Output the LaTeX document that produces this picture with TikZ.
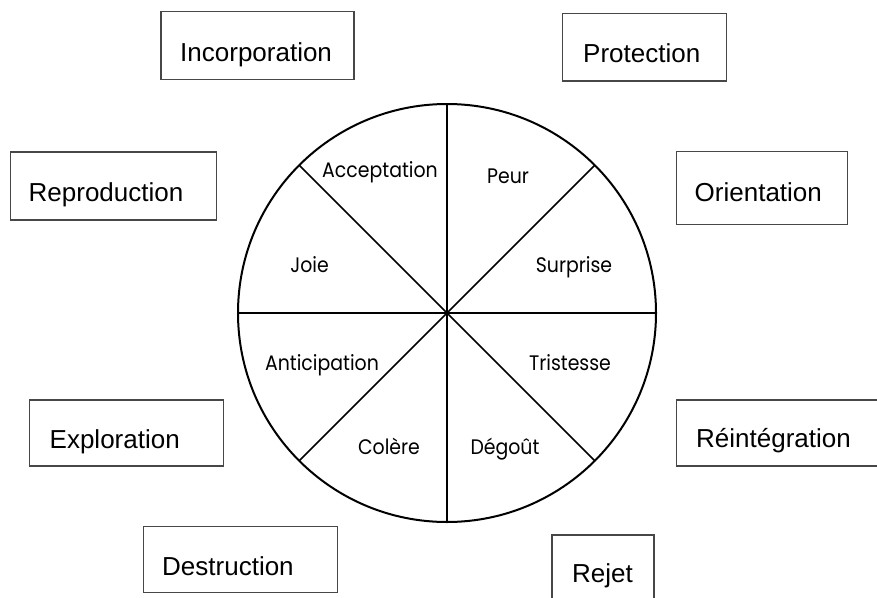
\documentclass[tikz,border=0pt]{standalone}
\usepackage{fontspec}
\setmainfont{Liberation Sans}
\newfontfamily\wheelfont[FakeStretch=0.9]{Poppins}
\begin{document}
\begin{tikzpicture}[x=1pt,y=-1pt,
  fnbox/.style={draw=black!72, line width=1.3pt, rectangle, inner sep=0pt, outer sep=0pt},
  fnlabel/.style={anchor=base west, inner sep=0pt, font=\fontsize{26}{30}\selectfont},
  emolabel/.style={anchor=base, inner sep=0pt, font=\wheelfont\fontsize{21}{24}\selectfont},
  spoke/.style={line width=1.5pt}]
\useasboundingbox (0,0) rectangle (877,597);
\fill[white] (0,0) rectangle (877,597);

% the wheel of emotions
\node[circle, draw, line width=2pt, minimum size=418pt, inner sep=0pt, outer sep=0pt] (wheel) at (447,313) {};
\foreach \a in {0,45,90,135} {
  \draw[spoke] (wheel.\a) -- (wheel.center);
  \pgfmathtruncatemacro{\b}{\a+180}
  \draw[spoke] (wheel.center) -- (wheel.\b);
}

\node[emolabel] (acceptation) at (380,177) {Acceptation};
\node[emolabel] (peur) at (508,183) {Peur};
\node[emolabel] (joie) at (309.5,272.5) {Joie};
\node[emolabel] (surprise) at (574,272) {Surprise};
\node[emolabel] (anticipation) at (322,370) {Anticipation};
\node[emolabel] (tristesse) at (570,370) {Tristesse};
\node[emolabel] (colere) at (389,454) {Colère};
\node[emolabel] (degout) at (505,454) {Dégoût};

% function boxes around the wheel
\node[fnbox, minimum width=193pt, minimum height=67.5pt] (bincorp) at (257.5,45.5) {};
\node[fnlabel] (incorp) at (180,61) {Incorporation};

\node[fnbox, minimum width=164pt, minimum height=67.5pt] (bprot) at (644.5,47.2) {};
\node[fnlabel] (prot) at (583,62.5) {Protection};

\node[fnbox, minimum width=206pt, minimum height=68pt] (brepro) at (113.7,186) {};
\node[fnlabel] (repro) at (28.5,201) {Reproduction};

\node[fnbox, minimum width=170.5pt, minimum height=72.5pt] (borient) at (762,188) {};
\node[fnlabel] (orient) at (694.5,201) {Orientation};

\node[fnbox, minimum width=194pt, minimum height=66pt] (bexplo) at (126.3,433) {};
\node[fnlabel] (explo) at (49.5,448) {Exploration};

\node[fnbox, minimum width=194pt, minimum height=66pt] (bdestr) at (240.3,559.7) {};
\node[fnlabel] (destr) at (162,575) {Destruction};

% boxes running off the right and bottom edges
\begin{scope}
\clip (0,0) rectangle (877,597);
\node[fnbox, minimum width=230pt, minimum height=66pt] (breint) at (791.7,433) {};
\node[fnbox, minimum width=102pt, minimum height=80pt] (brejet) at (603,575) {};
\end{scope}
\node[fnlabel] (reint) at (696,447) {Réintégration};
\node[fnlabel] (rejet) at (572,582.5) {Rejet};
\end{tikzpicture}
\end{document}
